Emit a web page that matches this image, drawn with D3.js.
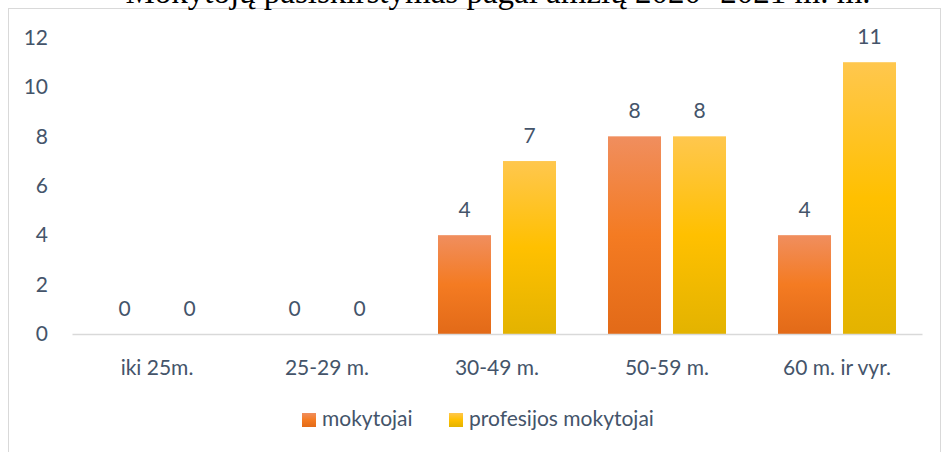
<!DOCTYPE html>
<html><head><meta charset="utf-8">
<script src="https://cdn.jsdelivr.net/npm/d3@7"></script>
<style>body{margin:0;background:#fff}svg{display:block}</style>
</head><body>
<svg id="c" width="942" height="452"></svg>
<script>
const title = "Mokytojų pasiskirstymas pagal amžių 2020- 2021 m. m.";
const categories = ["iki 25m.", "25-29 m.", "30-49 m.", "50-59 m.", "60 m. ir vyr."];
const seriesNames = ["mokytojai", "profesijos mokytojai"];
const mokytojai = [0, 0, 4, 8, 4];
const profesijosMokytojai = [0, 0, 7, 8, 11];
const yTicks = [0, 2, 4, 6, 8, 10, 12];

const series = [mokytojai, profesijosMokytojai];
const font = "Lato, 'Open Sans', sans-serif";
const textColor = "#44546A";
const svg = d3.select("#c");

const defs = svg.append("defs");
const grads = [
  [["0%", "#F08E5E"], ["50%", "#F47B22"], ["100%", "#E26A18"]],
  [["0%", "#FFC74E"], ["50%", "#FFC000"], ["100%", "#E3B300"]]
];
grads.forEach((stops, i) => {
  const g = defs.append("linearGradient").attr("id", "g" + i)
    .attr("x1", 0).attr("y1", 0).attr("x2", 0).attr("y2", 1);
  stops.forEach(s => g.append("stop").attr("offset", s[0]).attr("stop-color", s[1]));
});

// frame
svg.append("rect").attr("x", 8.5).attr("y", 8.5).attr("width", 932).attr("height", 460)
  .attr("fill", "none").attr("stroke", "#D9D9D9").attr("stroke-width", 1);

// title (clipped at top, as in the reference)
svg.append("text").attr("x", 498).attr("y", 3).attr("text-anchor", "middle")
  .attr("font-family", "'Liberation Serif', 'Times New Roman', serif").attr("font-size", 33)
  .attr("fill", "#000").text(title);

const x0 = d3.scaleBand().domain(categories).range([72, 922]).paddingInner(0.3059).paddingOuter(0.1529);
const x1 = d3.scaleBand().domain([0, 1]).range([0, x0.bandwidth()]).paddingInner(0.1846).paddingOuter(0);
const y = d3.scaleLinear().domain([0, 12]).range([334, 37.5]);

// y tick labels
const yAxis = svg.append("g").attr("transform", "translate(48,0)")
  .call(d3.axisLeft(y).tickValues(yTicks).tickSize(0).tickPadding(0));
yAxis.select(".domain").remove();
yAxis.selectAll("text").attr("font-family", font).attr("font-size", 21).attr("fill", textColor);

// bars
const groups = svg.append("g").selectAll("g").data(categories).join("g")
  .attr("transform", d => `translate(${x0(d)},0)`);
groups.selectAll("rect").data((d, ci) => series.map((s, si) => ({si, v: s[ci]})))
  .join("rect")
  .attr("x", d => x1(d.si)).attr("width", x1.bandwidth())
  .attr("y", d => y(d.v)).attr("height", d => y(0) - y(d.v))
  .attr("fill", d => `url(#g${d.si})`);
groups.selectAll("text").data((d, ci) => series.map((s, si) => ({si, v: s[ci]})))
  .join("text")
  .attr("x", d => x1(d.si) + x1.bandwidth() / 2).attr("y", d => y(d.v) - 18)
  .attr("text-anchor", "middle").attr("font-family", font).attr("font-size", 21)
  .attr("fill", textColor).text(d => d.v);

// baseline / x axis
const xAxis = svg.append("g").attr("transform", `translate(0,${y(0)})`)
  .call(d3.axisBottom(x0).tickSize(0).tickPadding(0));
xAxis.select(".domain").attr("stroke", "#D9D9D9").attr("stroke-width", 1.5);
xAxis.selectAll("text").attr("dy", 0).attr("y", 41).attr("font-family", font)
  .attr("font-size", 21).attr("fill", textColor);

// legend
const legendX = [302, 449];
const lg = svg.append("g").selectAll("g").data(seriesNames).join("g")
  .attr("transform", (d, i) => `translate(${legendX[i]},413)`);
lg.append("rect").attr("width", 14).attr("height", 14).attr("fill", (d, i) => `url(#g${i})`);
lg.append("text").attr("x", 20).attr("y", 13).attr("font-family", font).attr("font-size", 21)
  .attr("fill", textColor).text(d => d);
</script>
</body></html>
